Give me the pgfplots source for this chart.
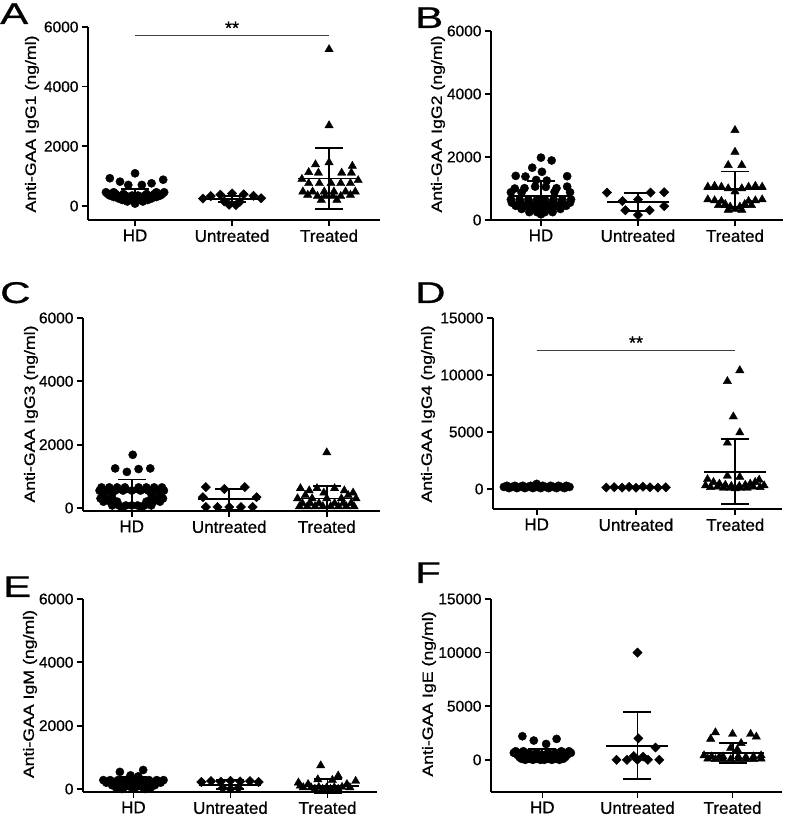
\documentclass[border=0pt]{standalone}
\usepackage{fontspec}
\setmainfont{Liberation Sans}[FakeBold=0.7]
\usepackage{graphicx}
\usepackage{pgfplots}
\pgfplotsset{compat=1.18}
\pgfplotsset{
 panel/.style={scale only axis, axis lines*=left, axis line style={line width=1.7pt, black},
   tick style={line width=1.7pt, black}, tick align=outside, major tick length=6pt,
   xtick={0,1,2}, xticklabels={HD,Untreated,Treated},
   xticklabel style={font=\fontsize{17}{20}\selectfont},
   yticklabel style={font=\fontsize{15.5}{18}\selectfont},
   /pgf/number format/assume math mode=true,
   /pgf/number format/set thousands separator={},
   scaled y ticks=false, clip=false, anchor=south west},
 circ/.style={only marks, mark=*, mark size=4.1pt, black, mark options={draw=black, fill=black}},
 tri/.style={only marks, mark=triangle*, mark size=4.8pt, black, mark options={draw=black, fill=black}},
 dia/.style={only marks, mark=square*, mark size=3.3pt, black, mark options={rotate=45, draw=black, fill=black}},
 msd/.style={black, only marks, mark=-, mark size=31pt, mark options={line width=1.9pt},
   error bars/.cd, y dir=both, y explicit, error bar style={line width=1.9pt, black},
   error mark options={rotate=90, mark size=14pt, line width=1.9pt, black}},
}
\newcommand{\ylab}[1]{\fontsize{15}{18}\selectfont\scalebox{1.18}[1]{#1}}
\newcommand{\plet}[1]{\fontsize{30}{35}\selectfont\scalebox{1.4}[1]{#1}}
\begin{document}
\begin{tikzpicture}[x=1pt,y=1pt]
\path[use as bounding box] (0,0) rectangle (787,817);
% ---------------- A
\begin{axis}[panel, at={(88pt,597pt)}, width=292pt, height=193pt,
  xmin=-0.485, xmax=2.525, ymin=-470, ymax=6000, ytick={0,2000,4000,6000}]
\addplot[circ] table[row sep=\\] {x y\\
-0.26 930\\ -0.155 815\\ 0.00 1095\\ -0.07 705\\ 0.07 705\\ 0.17 760\\ 0.29 880\\
-0.30 460\\ -0.22 460\\ 0.22 460\\ 0.30 460\\
-0.28 400\\ -0.20 400\\ -0.12 400\\ 0.12 400\\ 0.20 400\\ 0.28 400\\
-0.26 350\\ -0.18 350\\ -0.10 350\\ -0.03 350\\ 0.03 350\\ 0.10 350\\ 0.18 350\\ 0.26 350\\
-0.22 300\\ -0.15 300\\ -0.08 300\\ 0.00 300\\ 0.08 300\\ 0.15 300\\ 0.22 300\\
-0.17 250\\ -0.10 250\\ -0.03 250\\ 0.03 250\\ 0.10 250\\ 0.17 250\\
-0.13 200\\ -0.06 200\\ 0.06 200\\ 0.13 200\\
-0.08 150\\ 0.00 150\\ 0.08 150\\ 0.00 80\\};
\addplot[dia] table[row sep=\\] {x y\\
0.70 250\\ 0.78 330\\ 0.88 380\\ 1.00 420\\ 1.12 390\\ 1.22 340\\ 1.30 260\\
0.92 150\\ 1.08 140\\ 0.97 40\\ 1.04 30\\};
\addplot[tri] table[row sep=\\] {x y\\
2.00 5250\\ 2.00 2700\\ 1.86 1390\\ 2.24 1340\\ 2.00 1460\\
1.79 1130\\ 1.89 1110\\ 2.13 1110\\ 2.23 1110\\ 1.72 900\\ 2.30 860\\
1.79 760\\ 1.90 760\\ 2.02 760\\ 2.12 760\\ 2.22 760\\
1.73 480\\ 1.83 480\\ 1.95 480\\ 2.05 480\\ 2.17 480\\ 2.27 480\\
1.78 370\\ 2.22 370\\ 1.88 330\\ 1.96 330\\ 2.04 330\\ 2.12 330\\ 1.92 200\\ 2.08 200\\};
\addplot[msd] table[row sep=\\, y error=s] {x y s\\ 0 370 200\\ 1 240 100\\ 2 920 1030\\};
\draw[black!75, line width=0.9pt] (axis cs:0,5720) -- (axis cs:2,5720);
\node[font=\fontsize{18}{20}\selectfont, anchor=south, inner sep=1pt] at (axis cs:1,5720) {**};
\end{axis}
% ---------------- B
\begin{axis}[panel, at={(491pt,597pt)}, width=292pt, height=189pt,
  xmin=-0.515, xmax=2.495, ymin=0, ymax=6000, ytick={0,2000,4000,6000}]
\addplot[circ] table[row sep=\\] {x y\\
0.00 1980\\ 0.11 1890\\ -0.09 1660\\ 0.01 1530\\ -0.26 1400\\ -0.16 1380\\ 0.27 1390\\
-0.05 1270\\ 0.06 1250\\ -0.27 1000\\ -0.17 1010\\ -0.06 1060\\ 0.05 1050\\ 0.16 1010\\ 0.27 1060\\
-0.31 880\\ -0.20 870\\ 0.14 890\\ 0.30 880\\
-0.31 650\\ -0.22 650\\ -0.13 650\\ -0.04 650\\ 0.04 650\\ 0.13 650\\ 0.22 650\\ 0.31 650\\
-0.30 550\\ -0.21 550\\ -0.12 550\\ -0.04 550\\ 0.04 550\\ 0.12 550\\ 0.21 550\\ 0.30 550\\
-0.26 450\\ -0.17 450\\ -0.08 450\\ 0.00 450\\ 0.08 450\\ 0.17 450\\ 0.26 450\\
-0.20 350\\ -0.12 350\\ -0.04 350\\ 0.04 350\\ 0.12 350\\ 0.20 350\\
-0.12 250\\ -0.04 250\\ 0.04 250\\ 0.12 250\\ 0.00 180\\};
\addplot[dia] table[row sep=\\] {x y\\
0.68 870\\ 0.84 600\\ 1.00 650\\ 1.13 870\\ 1.27 880\\ 0.87 310\\ 1.12 310\\ 1.27 440\\ 1.00 160\\};
\addplot[tri] table[row sep=\\] {x y\\
2.00 2850\\ 2.00 2160\\ 1.93 1740\\ 2.07 1740\\
1.72 1050\\ 1.79 1080\\ 1.86 1050\\ 1.93 1000\\ 2.07 1000\\ 2.14 1050\\ 2.21 1080\\ 2.28 1050\\ 2.00 900\\
1.72 650\\ 1.79 620\\ 1.86 600\\ 2.14 600\\ 2.21 620\\ 2.28 650\\
1.90 500\\ 2.10 500\\ 1.83 470\\ 2.17 470\\ 1.95 420\\ 2.05 420\\ 2.00 350\\ 1.93 320\\ 2.07 320\\};
\addplot[msd] table[row sep=\\, y error=s] {x y s\\ 0 750 490\\ 1 580 290\\ 2 980 560\\};
\end{axis}
% ---------------- C
\begin{axis}[panel, at={(83pt,306pt)}, width=297pt, height=193pt,
  xmin=-0.5, xmax=2.546, ymin=-95, ymax=6000, ytick={0,2000,4000,6000}]
\addplot[circ] table[row sep=\\] {x y\\
0.01 1680\\ -0.17 1250\\ -0.05 1140\\ 0.07 1230\\ 0.19 1250\\
-0.31 650\\ -0.23 650\\ -0.15 650\\ -0.07 650\\ 0.07 650\\ 0.15 650\\ 0.23 650\\ 0.31 650\\
-0.33 550\\ -0.25 550\\ -0.17 550\\ -0.09 550\\ 0.00 550\\ 0.09 550\\ 0.17 550\\ 0.25 550\\ 0.33 550\\
-0.30 450\\ -0.20 450\\ 0.20 450\\ 0.30 450\\
-0.32 300\\ -0.26 300\\ -0.20 300\\ 0.20 300\\ 0.26 300\\ 0.32 300\\
-0.29 200\\ -0.22 200\\ -0.15 200\\ 0.15 200\\ 0.22 200\\ 0.29 200\\
-0.20 80\\ -0.13 80\\ -0.06 80\\ 0.00 80\\ 0.06 80\\ 0.13 80\\ 0.20 80\\
-0.10 20\\ 0.10 20\\};
\addplot[dia] table[row sep=\\] {x y\\
0.76 660\\ 0.95 600\\ 1.16 660\\ 0.73 340\\ 1.28 340\\ 0.76 30\\ 0.88 30\\ 1.00 30\\ 1.12 30\\ 1.24 30\\};
\addplot[tri] table[row sep=\\] {x y\\
2.00 1750\\ 1.73 620\\ 1.90 620\\ 2.08 620\\ 1.82 550\\ 2.18 550\\ 1.97 480\\ 2.27 480\\ 1.78 400\\ 2.22 400\\
1.70 300\\ 1.85 300\\ 2.00 300\\ 2.15 300\\ 2.30 300\\
1.75 150\\ 1.83 150\\ 1.92 150\\ 2.08 150\\ 2.17 150\\ 2.25 150\\
1.72 50\\ 1.80 50\\ 1.88 50\\ 1.96 50\\ 2.04 50\\ 2.12 50\\ 2.20 50\\ 2.28 50\\};
\addplot[msd] table[row sep=\\, y error=s] {x y s\\ 0 500 400\\ 1 270 320\\ 2 300 390\\};
\end{axis}
% ---------------- D
\begin{axis}[panel, at={(493pt,308pt)}, width=289pt, height=191pt,
  xmin=-0.44, xmax=2.47, ymin=-1754, ymax=15000, ytick={0,5000,10000,15000}]
\addplot[circ] table[row sep=\\] {x y\\
0.00 450\\
-0.30 280\\ -0.22 280\\ -0.14 280\\ -0.06 280\\ 0.06 280\\ 0.14 280\\ 0.22 280\\ 0.30 280\\
-0.33 180\\ -0.25 180\\ -0.17 180\\ -0.09 180\\ -0.01 180\\ 0.01 180\\ 0.09 180\\ 0.17 180\\ 0.25 180\\ 0.33 180\\
-0.28 80\\ -0.20 80\\ -0.12 80\\ -0.04 80\\ 0.04 80\\ 0.12 80\\ 0.20 80\\ 0.28 80\\};
\addplot[dia] table[row sep=\\] {x y\\
0.70 130\\ 0.78 160\\ 0.86 120\\ 0.93 180\\ 1.00 110\\ 1.07 200\\ 1.14 150\\ 1.22 120\\ 1.30 150\\};
\addplot[tri] table[row sep=\\] {x y\\
2.045 10400\\ 1.92 9450\\ 1.98 6350\\ 2.045 4950\\ 1.92 4050\\ 1.92 1150\\ 2.045 1050\\
1.72 850\\ 2.24 800\\ 1.78 600\\ 2.20 600\\ 1.84 450\\ 2.15 450\\
1.70 300\\ 1.90 350\\ 2.10 350\\ 2.29 300\\ 1.75 150\\ 1.82 200\\ 1.96 250\\ 2.04 250\\ 2.18 200\\ 2.25 150\\
1.88 100\\ 1.95 80\\ 2.05 80\\ 2.12 100\\ 2.00 50\\};
\addplot[msd] table[row sep=\\, y error=s] {x y s\\ 0 160 100\\ 1 150 60\\ 2 1520 2850\\};
\draw[black!75, line width=0.9pt] (axis cs:0,12190) -- (axis cs:2,12190);
\node[font=\fontsize{18}{20}\selectfont, anchor=south, inner sep=1pt] at (axis cs:1,12190) {**};
\end{axis}
% ---------------- E
\begin{axis}[panel, at={(83pt,25pt)}, width=294pt, height=193pt,
  xmin=-0.52, xmax=2.51, ymin=-95, ymax=6000, ytick={0,2000,4000,6000}]
\addplot[circ] table[row sep=\\] {x y\\
-0.14 540\\ 0.10 600\\ -0.03 430\\ 0.05 400\\
-0.31 280\\ -0.24 280\\ -0.16 280\\ -0.08 280\\ 0.00 280\\ 0.08 280\\ 0.16 280\\ 0.24 280\\ 0.31 280\\
-0.28 200\\ -0.20 200\\ -0.12 200\\ -0.04 200\\ 0.04 200\\ 0.12 200\\ 0.20 200\\ 0.28 200\\
-0.22 120\\ -0.14 120\\ -0.06 120\\ 0.06 120\\ 0.14 120\\ 0.22 120\\
-0.18 50\\ -0.10 50\\ -0.02 50\\ 0.02 50\\ 0.10 50\\ 0.18 50\\
-0.12 0\\ 0.12 0\\};
\addplot[dia] table[row sep=\\] {x y\\
0.70 220\\ 0.80 250\\ 0.90 230\\ 1.00 260\\ 1.10 240\\ 1.20 250\\ 1.29 220\\ 0.92 30\\ 1.00 0\\ 1.08 30\\};
\addplot[tri] table[row sep=\\] {x y\\
1.93 740\\ 2.11 420\\ 1.70 200\\ 2.29 250\\ 1.80 150\\ 2.20 150\\ 1.90 300\\ 2.05 280\\
1.75 50\\ 1.83 50\\ 1.91 60\\ 1.99 40\\ 2.07 50\\ 2.15 60\\ 2.23 50\\
1.87 0\\ 1.95 0\\ 2.03 0\\ 2.11 0\\ 1.72 100\\};
\addplot[msd] table[row sep=\\, y error=s] {x y s\\ 0 190 180\\ 1 130 140\\ 2 90 230\\};
\end{axis}
% ---------------- F
\begin{axis}[panel, at={(491pt,25pt)}, width=291pt, height=193pt,
  xmin=-0.54, xmax=2.52, ymin=-3000, ymax=15000, ytick={0,5000,10000,15000}]
\addplot[circ] table[row sep=\\] {x y\\
-0.21 2200\\ -0.09 1800\\ 0.04 1480\\ 0.15 1950\\
-0.28 800\\ -0.20 800\\ 0.20 800\\ 0.28 800\\
-0.30 650\\ -0.22 650\\ -0.14 650\\ -0.06 650\\ 0.06 650\\ 0.14 650\\ 0.22 650\\ 0.30 650\\
-0.26 450\\ -0.18 450\\ -0.10 450\\ -0.02 450\\ 0.02 450\\ 0.10 450\\ 0.18 450\\ 0.26 450\\
-0.24 250\\ -0.16 250\\ -0.08 250\\ 0.00 250\\ 0.08 250\\ 0.16 250\\ 0.24 250\\
-0.22 100\\ -0.14 100\\ -0.06 100\\ 0.06 100\\ 0.14 100\\ 0.22 100\\
-0.18 0\\ -0.10 0\\ -0.02 0\\ 0.02 0\\ 0.10 0\\ 0.18 0\\};
\addplot[dia] table[row sep=\\] {x y\\
1.00 10000\\ 1.01 2000\\ 1.19 1150\\ 0.78 0\\ 0.89 0\\ 1.00 0\\ 1.11 0\\ 1.23 0\\ 0.96 350\\ 1.06 300\\};
\addplot[tri] table[row sep=\\] {x y\\
1.82 2550\\ 2.00 2400\\ 2.19 2400\\ 1.77 1950\\ 2.25 2150\\ 2.09 1550\\ 1.98 1100\\ 2.05 950\\
1.70 400\\ 1.78 300\\ 1.86 250\\ 2.14 250\\ 2.22 300\\ 2.30 400\\
1.74 100\\ 1.82 50\\ 1.90 50\\ 1.98 50\\ 2.06 50\\ 2.14 50\\ 2.22 50\\ 2.30 100\\ 1.90 300\\ 2.06 300\\};
\addplot[msd] table[row sep=\\, y error=s] {x y s\\ 0 400 600\\ 1 1320 3130\\ 2 640 920\\};
\end{axis}
% ---------------- labels
\node[rotate=90] at (32,693) {\ylab{Anti-GAA IgG1 (ng/ml)}};
\node[rotate=90] at (438,693) {\ylab{Anti-GAA IgG2 (ng/ml)}};
\node[rotate=90] at (31,403) {\ylab{Anti-GAA IgG3 (ng/ml)}};
\node[rotate=90] at (428,403) {\ylab{Anti-GAA IgG4 (ng/ml)}};
\node[rotate=90] at (30,123) {\ylab{Anti-GAA IgM (ng/ml)}};
\node[rotate=90] at (429,123) {\ylab{Anti-GAA IgE (ng/ml)}};
\node[anchor=base west, inner sep=0pt] at (0,793) {\plet{A}};
\node[anchor=base west, inner sep=0pt] at (415,789) {\plet{B}};
\node[anchor=base west, inner sep=0pt] at (0,514) {\plet{C}};
\node[anchor=base west, inner sep=0pt] at (415,514) {\plet{D}};
\node[anchor=base west, inner sep=0pt] at (3,220) {\plet{E}};
\node[anchor=base west, inner sep=0pt] at (415,234) {\plet{F}};
\end{tikzpicture}
\end{document}
